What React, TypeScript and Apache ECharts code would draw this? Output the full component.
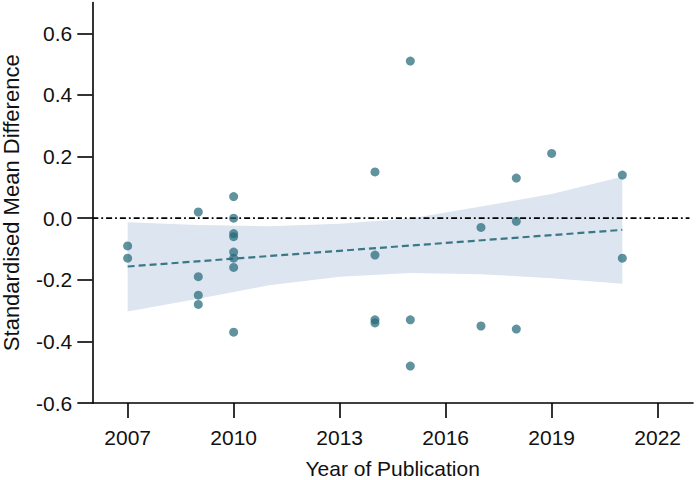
import React, { useEffect, useRef } from "react";
import * as echarts from "echarts";

const pointYears = [
  2007, 2007,
  2009, 2009, 2009, 2009,
  2010, 2010, 2010, 2010, 2010, 2010, 2010, 2010,
  2014, 2014, 2014, 2014,
  2015, 2015, 2015,
  2017, 2017,
  2018, 2018, 2018,
  2019,
  2021, 2021,
];
const pointSMD = [
  -0.09, -0.13,
  0.02, -0.19, -0.25, -0.28,
  0.07, 0.0, -0.05, -0.06, -0.11, -0.13, -0.16, -0.37,
  0.15, -0.12, -0.33, -0.34,
  0.51, -0.33, -0.48,
  -0.03, -0.35,
  0.13, -0.01, -0.36,
  0.21,
  0.14, -0.13,
];

const bandYears = [2007, 2009, 2011, 2013, 2015, 2017, 2019, 2021];
const bandUpper = [-0.013, -0.022, -0.026, -0.018, -0.001, 0.038, 0.078, 0.134];
const bandLower = [-0.303, -0.262, -0.218, -0.19, -0.178, -0.182, -0.195, -0.213];

const regYears = [2007, 2021];
const regSMD = [-0.157, -0.038];

const xTicks = [2007, 2010, 2013, 2016, 2019, 2022];
const yTicks = [-0.6, -0.4, -0.2, 0.0, 0.2, 0.4, 0.6];

const FONT = "'Liberation Sans', Arial, sans-serif";

export default function App() {
  const ref = useRef<HTMLDivElement>(null);
  useEffect(() => {
    if (!ref.current) return;
    const chart = echarts.init(ref.current, null, { renderer: "svg" });
    const axisLine = { show: true, onZero: false, lineStyle: { color: "#000", width: 1.6 } };
    const axisTick = { show: true, inside: false, length: 15, lineStyle: { color: "#000", width: 1.6 } };
    chart.setOption({
      animation: false,
      backgroundColor: "#fff",
      textStyle: { fontFamily: FONT },
      grid: {
        left: 92.3,
        right: 5,
        top: 2.5,
        bottom: 77,
        containLabel: false,
        outerBoundsMode: "none",
      },
      xAxis: {
        type: "value",
        min: 2006,
        max: 2023,
        splitLine: { show: false },
        axisLine,
        axisTick: { ...axisTick, customValues: xTicks },
        axisLabel: {
          customValues: xTicks,
          formatter: (v: number) => String(v),
          fontSize: 21,
          color: "#111",
          margin: 24,
          fontFamily: FONT,
        },
        name: "Year of Publication",
        nameLocation: "middle",
        nameGap: 55,
        nameTextStyle: { fontSize: 21, color: "#111", fontFamily: FONT },
      },
      yAxis: {
        type: "value",
        min: -0.6,
        max: 0.7,
        interval: 0.2,
        splitLine: { show: false },
        axisLine,
        axisTick: { ...axisTick, customValues: yTicks },
        axisLabel: {
          customValues: yTicks,
          formatter: (v: number) => v.toFixed(1),
          fontSize: 21,
          color: "#111",
          margin: 20,
          fontFamily: FONT,
        },
        name: "Standardised Mean Difference",
        nameLocation: "middle",
        nameGap: 70,
        nameTextStyle: { fontSize: 22, color: "#111", fontFamily: FONT },
      },
      series: [
        {
          type: "custom",
          silent: true,
          z: 1,
          data: bandYears.map((y, i) => [y, bandLower[i], bandUpper[i]]),
          encode: { x: 0, y: [1, 2] },
          renderItem: (params: any, api: any) => {
            if (params.dataIndex !== 0) return null;
            const top = bandYears.map((y, i) => api.coord([y, bandUpper[i]]));
            const bot = bandYears.map((y, i) => api.coord([y, bandLower[i]])).reverse();
            return {
              type: "polygon",
              shape: { points: top.concat(bot) },
              style: { fill: "#dde5f0", stroke: "none" },
            };
          },
        },
        {
          type: "line",
          silent: true,
          z: 2,
          symbol: "none",
          data: [[2006, 0], [2022.9, 0]],
          lineStyle: { color: "#000", width: 1.8, type: [6, 3, 1.8, 3] },
        },
        {
          type: "line",
          silent: true,
          z: 3,
          symbol: "none",
          data: regYears.map((y, i) => [y, regSMD[i]]),
          lineStyle: { color: "#3a7886", width: 2.2, type: [7, 4] },
        },
        {
          type: "scatter",
          z: 4,
          symbolSize: 9,
          data: pointYears.map((y, i) => [y, pointSMD[i]]),
          itemStyle: { color: "rgba(36,106,122,0.9)" },
        },
      ],
    });
    return () => chart.dispose();
  }, []);
  return (
    <div
      ref={ref}
      style={{ position: "fixed", left: 0, top: 0, width: 698, height: 480 }}
    />
  );
}
